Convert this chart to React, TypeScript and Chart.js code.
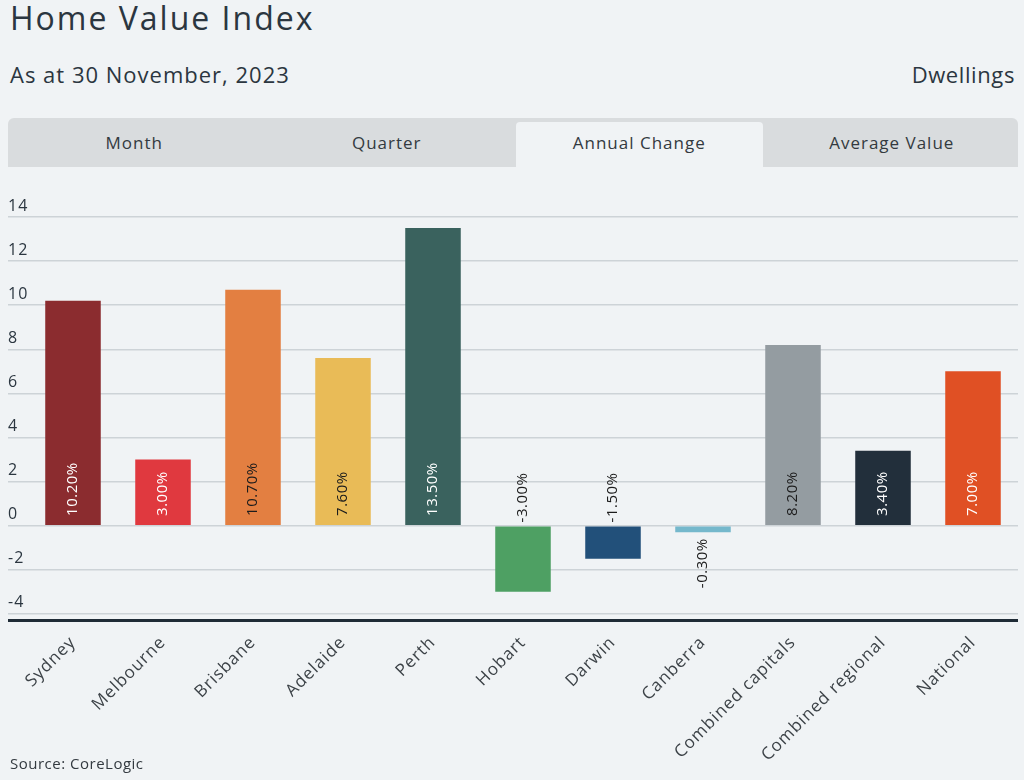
import React, { useEffect, useRef } from 'react';
import { Chart, registerables } from 'chart.js';

Chart.register(...registerables);

const categories = [
  'Sydney',
  'Melbourne',
  'Brisbane',
  'Adelaide',
  'Perth',
  'Hobart',
  'Darwin',
  'Canberra',
  'Combined capitals',
  'Combined regional',
  'National',
];
const annualChange = [10.2, 3.0, 10.7, 7.6, 13.5, -3.0, -1.5, -0.3, 8.2, 3.4, 7.0];
const yTicks = [-4, -2, 0, 2, 4, 6, 8, 10, 12, 14];
const tabs = ['Month', 'Quarter', 'Annual Change', 'Average Value'];
const activeTab = 2;

const barColors = [
  '#8b2c2f',
  '#e0393f',
  '#e37f41',
  '#e9bb57',
  '#3a625e',
  '#4ea063',
  '#22507a',
  '#75b8cc',
  '#949ca1',
  '#222f3b',
  '#e05024',
];
const labelColors = [
  '#ffffff',
  '#ffffff',
  '#1c1c1c',
  '#1c1c1c',
  '#ffffff',
  '#1c1c1c',
  '#1c1c1c',
  '#1c1c1c',
  '#1c1c1c',
  '#ffffff',
  '#ffffff',
];

const FONT = '"Open Sans", "DejaVu Sans", sans-serif';
const BG = '#f0f3f5';
const TEXT = '#2b3640';

const spacing = {
  id: 'spacing',
  beforeDraw(chart: any) {
    chart.ctx.letterSpacing = '1px';
  },
};

const valueLabels = {
  id: 'valueLabels',
  afterDatasetsDraw(chart: any) {
    const ctx = chart.ctx;
    const meta = chart.getDatasetMeta(0);
    const data = chart.data.datasets[0].data as number[];
    ctx.save();
    ctx.letterSpacing = '0.5px';
    ctx.font = `15px ${FONT}`;
    ctx.textBaseline = 'middle';
    meta.data.forEach((el: any, i: number) => {
      const v = data[i];
      const { x, y, base } = el.getProps(['x', 'y', 'base'], true);
      const txt = v.toFixed(2) + '%';
      ctx.save();
      ctx.fillStyle = labelColors[i];
      if (v >= 0) {
        ctx.translate(x, base - 9);
        ctx.rotate(-Math.PI / 2);
        ctx.textAlign = 'left';
      } else if (Math.abs(y - base) > 20) {
        ctx.translate(x, base - 4);
        ctx.rotate(-Math.PI / 2);
        ctx.textAlign = 'left';
      } else {
        ctx.translate(x, y + 6);
        ctx.rotate(-Math.PI / 2);
        ctx.textAlign = 'right';
      }
      ctx.fillText(txt, 0, 0);
      ctx.restore();
    });
    ctx.restore();
  },
};

const axisLine = {
  id: 'axisLine',
  afterDraw(chart: any) {
    const { ctx, chartArea } = chart;
    ctx.save();
    ctx.fillStyle = '#1f2b36';
    ctx.fillRect(8, chartArea.bottom - 1.5, chartArea.right - 8, 3);
    ctx.restore();
  },
};

function BarChart() {
  const ref = useRef<HTMLCanvasElement | null>(null);
  useEffect(() => {
    if (!ref.current) return;
    const c2d = ref.current.getContext('2d') as any;
    if (c2d) c2d.letterSpacing = '1px';
    const chart = new Chart(ref.current, {
      type: 'bar',
      data: {
        labels: categories,
        datasets: [
          {
            data: annualChange,
            backgroundColor: barColors,
            borderWidth: 0,
            categoryPercentage: 1,
            barPercentage: 0.617,
          },
        ],
      },
      options: {
        animation: false,
        responsive: false,
        maintainAspectRatio: false,
        layout: { padding: { left: 8, right: 6, top: 37, bottom: 0 } },
        plugins: {
          legend: { display: false },
          tooltip: { enabled: false },
        },
        scales: {
          x: {
            grid: { display: false },
            border: { display: false },
            ticks: {
              autoSkip: false,
              minRotation: 45,
              maxRotation: 45,
              padding: 4,
              font: { family: FONT, size: 17 },
              color: '#3c4247',
            },
            afterFit: (s: any) => {
              s.height = 139.5;
            },
          },
          y: {
            min: -4.3,
            max: 14,
            afterBuildTicks: (s: any) => {
              s.ticks = yTicks.map((v) => ({ value: v }));
            },
            afterFit: (s: any) => {
              s.width = 20;
            },
            grid: {
              color: '#cdd3d7',
              lineWidth: 1.5,
              drawTicks: true,
              tickLength: 20,
            },
            border: { display: false },
            ticks: {
              crossAlign: 'far',
              labelOffset: -11,
              padding: 0,
              font: { family: FONT, size: 16 },
              color: TEXT,
            },
          },
        },
      },
      plugins: [spacing, valueLabels, axisLine],
    } as any);
    return () => chart.destroy();
  }, []);
  return <canvas ref={ref} width={1024} height={580} style={{ display: 'block' }} />;
}

export default function App() {
  const tabW = 1010 / tabs.length;
  return (
    <div
      style={{
        position: 'absolute',
        left: 0,
        top: 0,
        width: 1024,
        height: 780,
        background: BG,
        fontFamily: FONT,
        color: TEXT,
        overflow: 'hidden',
      }}
    >
      <div
        style={{
          position: 'absolute',
          left: 10,
          top: -2.5,
          fontSize: 32,
          fontWeight: 500,
          lineHeight: '40px',
          letterSpacing: 2,
          whiteSpace: 'nowrap',
        }}
      >
        Home Value Index
      </div>
      <div
        style={{
          position: 'absolute',
          left: 10,
          top: 59.5,
          fontSize: 22,
          fontWeight: 500,
          lineHeight: '28px',
          letterSpacing: 1,
          whiteSpace: 'nowrap',
        }}
      >
        As at 30 November, 2023
      </div>
      <div
        style={{
          position: 'absolute',
          right: 9,
          top: 59.5,
          fontSize: 22,
          fontWeight: 500,
          lineHeight: '28px',
          letterSpacing: 0.6,
          whiteSpace: 'nowrap',
        }}
      >
        Dwellings
      </div>
      <div
        style={{
          position: 'absolute',
          left: 8,
          top: 118,
          width: 1010,
          height: 49,
          background: '#d9dcde',
          borderRadius: '6px 6px 0 0',
        }}
      >
        {tabs.map((t, i) => (
          <div
            key={t}
            style={{
              position: 'absolute',
              left: i * tabW + (i === activeTab ? 3 : 0),
              top: i === activeTab ? 4 : 0,
              width: tabW - (i === activeTab ? 6 : 0),
              height: i === activeTab ? 45 : 49,
              background: i === activeTab ? BG : 'transparent',
              borderRadius: i === activeTab ? '4px 4px 0 0' : 0,
              display: 'flex',
              alignItems: 'center',
              justifyContent: 'center',
              fontSize: 17,
              letterSpacing: 1,
              color: '#333a40',
              boxSizing: 'border-box',
            }}
          >
            <span style={{ position: 'relative', top: i === activeTab ? -2 : 0 }}>{t}</span>
          </div>
        ))}
      </div>
      <div style={{ position: 'absolute', left: 0, top: 180 }}>
        <BarChart />
      </div>
      <div
        style={{
          position: 'absolute',
          left: 10,
          top: 753,
          fontSize: 15,
          lineHeight: '20px',
          letterSpacing: 0.5,
          color: '#333a40',
          whiteSpace: 'nowrap',
        }}
      >
        Source: CoreLogic
      </div>
    </div>
  );
}
